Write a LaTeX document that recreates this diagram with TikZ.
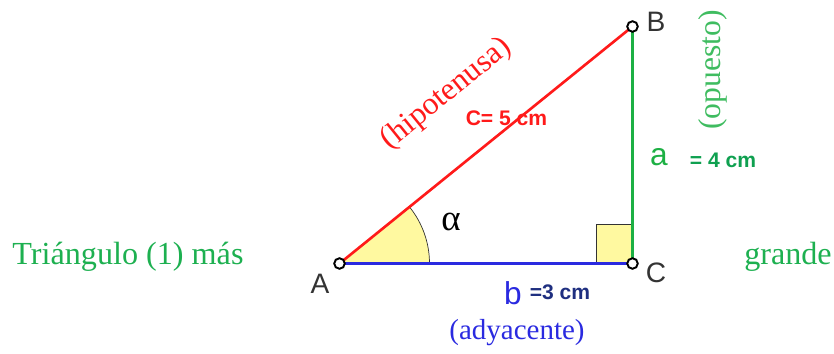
\documentclass[tikz,border=0pt]{standalone}
\usepackage{fontspec}
\setmainfont{Liberation Serif}
\setsansfont{Liberation Sans}
\usepackage{xcolor}
\usepackage{tikz}
\definecolor{trired}{HTML}{FF1A1A}
\definecolor{trigreen}{HTML}{1DB044}
\definecolor{trigreentxt}{HTML}{1DB050}
\definecolor{trigreendark}{HTML}{0FA050}
\definecolor{triblue}{HTML}{2A2AE0}
\definecolor{trinavy}{HTML}{1F2F80}
\definecolor{triyellow}{HTML}{FFF9A0}
\definecolor{trigray}{HTML}{333333}

\begin{document}
\begin{tikzpicture}[
  pt/.style={circle, draw=black, fill=white, line width=1.1pt, inner sep=0pt, minimum size=6pt},
  side/.style={line width=1.5pt},
  vlab/.style={font=\sffamily\fontsize{16}{18}\selectfont, text=trigray},
  serif/.style={font=\fontsize{18}{21}\selectfont},
  big/.style={font=\sffamily\fontsize{18}{21}\selectfont},
  val/.style={font=\sffamily\bfseries\fontsize{12}{14}\selectfont}
]
  \useasboundingbox (0,0) rectangle (16.68,7.06);
  \coordinate (A) at (6.79,1.79);
  \coordinate (B) at (12.65,6.53);
  \coordinate (C) at (12.65,1.79);

  % angle and right angle marks
  \filldraw[fill=triyellow, draw=trigray, thin] (A) -- ++(0:1.8) arc (0:39:1.8) -- cycle;
  \filldraw[fill=triyellow, draw=trigray, thin] (C) rectangle ++(-0.73,0.78);

  % sides
  \draw[side, trired] (A) -- (B);
  \draw[side, trigreen] (C) -- (B);
  \draw[side, triblue] (A) -- (C);

  \node[pt] (ptA) at (A) {};
  \node[pt] (ptB) at (B) {};
  \node[pt] (ptC) at (C) {};

  \node[vlab] (labA) at (6.4,1.38) {A};
  \node[vlab] (labB) at (13.12,6.62) {B};
  \node[vlab] (labC) at (13.12,1.6) {C};

  \node[serif, font=\fontsize{21}{24}\selectfont] (alpha) at (9.02,2.62) {α};
  \node[serif, text=trired, rotate=39] (hip) at (8.93,5.18) {(hipotenusa)};
  \node[val, text=trired] (cval) at (10.13,4.69) {C= 5 cm};
  \node[serif, text=trigreen!85!white, rotate=90] (opu) at (14.26,5.66) {(opuesto)};
  \node[big, text=trigreen] (a) at (13.18,3.92) {a};
  \node[val, text=trigreendark] (aval) at (14.46,3.86) {= 4 cm};
  \node[big, text=triblue] (b) at (10.26,1.2) {b};
  \node[val, text=trinavy] (bval) at (11.2,1.22) {=3 cm};
  \node[serif, text=triblue, font=\fontsize{16.5}{19}\selectfont] (ady) at (10.34,0.4) {(adyacente)};

  \node[serif, text=trigreentxt, font=\fontsize{18.3}{21}\selectfont] (tri) at (2.56,1.92) {Triángulo (1) más};
  \node[serif, text=trigreentxt, font=\fontsize{18.3}{21}\selectfont] (grande) at (15.76,1.92) {grande};
\end{tikzpicture}
\end{document}
